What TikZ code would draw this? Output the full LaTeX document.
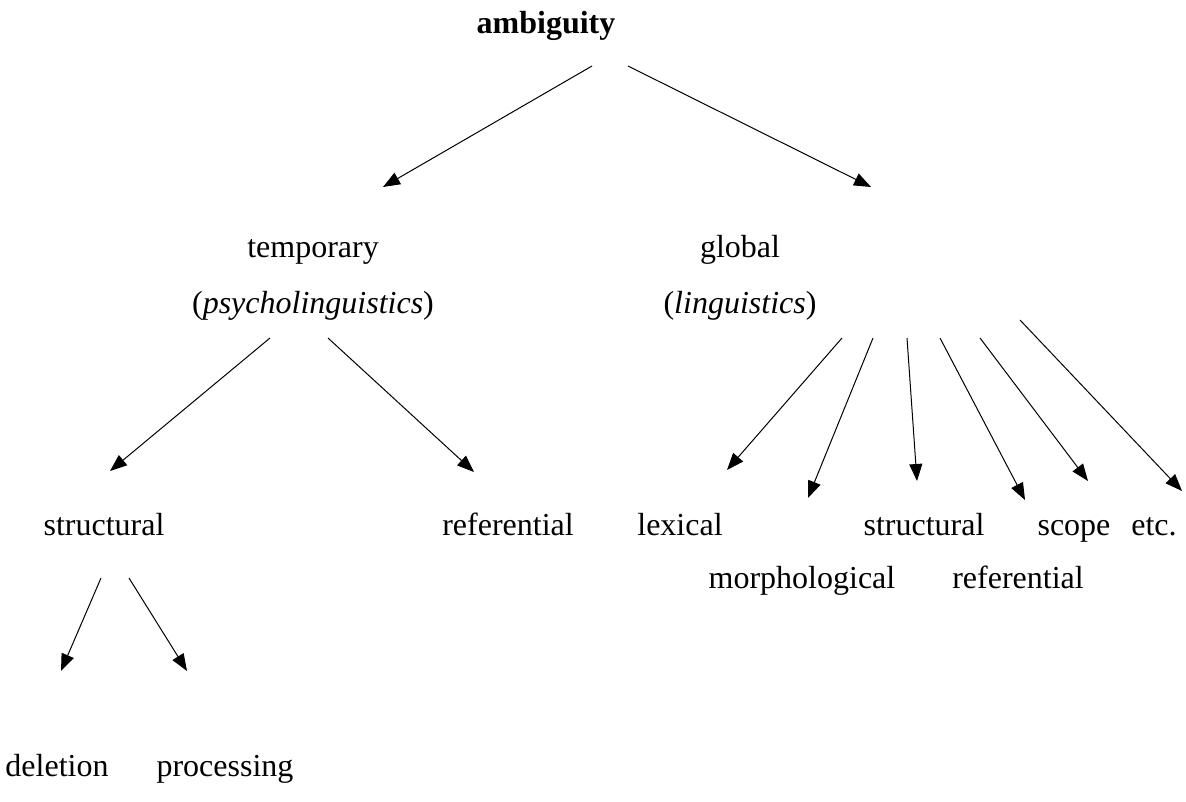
\documentclass[tikz,border=0pt]{standalone}
\usepackage{fontspec}
\setmainfont{Liberation Serif}
\usetikzlibrary{arrows.meta}
\begin{document}
\begin{tikzpicture}[x=1pt,y=-1pt,
  lbl/.style={anchor=base,inner sep=0pt,font=\fontsize{32}{38}\selectfont},
  arr/.style={line width=1pt,-{Triangle[length=17pt,width=13pt]}}]
\useasboundingbox (0,0) rectangle (1186,801);
% nodes
\node[lbl,font=\fontsize{32}{38}\selectfont\bfseries] (amb) at (546,33) {ambiguity};
\node[lbl] (temp) at (313,257) {temporary};
\node[lbl] (psy) at (313,313) {(\textit{psycholinguistics})};
\node[lbl] (glob) at (740,257) {global};
\node[lbl] (ling) at (740,313) {(\textit{linguistics})};
\node[lbl] (struct) at (104,535) {structural};
\node[lbl] (ref) at (508,535) {referential};
\node[lbl] (del) at (57,776) {deletion};
\node[lbl] (proc) at (225,776) {processing};
\node[lbl] (lex) at (680,535) {lexical};
\node[lbl] (morph) at (802,588) {morphological};
\node[lbl] (gstruct) at (924,535) {structural};
\node[lbl] (gref) at (1018,588) {referential};
\node[lbl] (scope) at (1074,535) {scope};
\node[lbl] (etc) at (1154,535) {etc.};
% connector end points
\coordinate (a1s) at (592,66);  \coordinate (a1e) at (383,187);
\coordinate (a2s) at (628,66);  \coordinate (a2e) at (871,187);
\coordinate (t1s) at (270,338); \coordinate (t1e) at (110,471);
\coordinate (t2s) at (328,338); \coordinate (t2e) at (474,472);
\coordinate (s1s) at (101,578); \coordinate (s1e) at (61,671);
\coordinate (s2s) at (129,578); \coordinate (s2e) at (187,671);
\coordinate (g1s) at (842,338); \coordinate (g1e) at (727,470);
\coordinate (g2s) at (873,338); \coordinate (g2e) at (808,498);
\coordinate (g3s) at (907,338); \coordinate (g3e) at (917,481);
\coordinate (g4s) at (940,338); \coordinate (g4e) at (1025,500);
\coordinate (g5s) at (980,338); \coordinate (g5e) at (1088,481);
\coordinate (g6s) at (1020,320); \coordinate (g6e) at (1182,491);
% connectors
\foreach \s/\e in {a1s/a1e,a2s/a2e,t1s/t1e,t2s/t2e,s1s/s1e,s2s/s2e,g1s/g1e,g2s/g2e,g3s/g3e,g4s/g4e,g5s/g5e,g6s/g6e}
  \draw[arr] (\s) -- (\e);
\end{tikzpicture}
\end{document}
